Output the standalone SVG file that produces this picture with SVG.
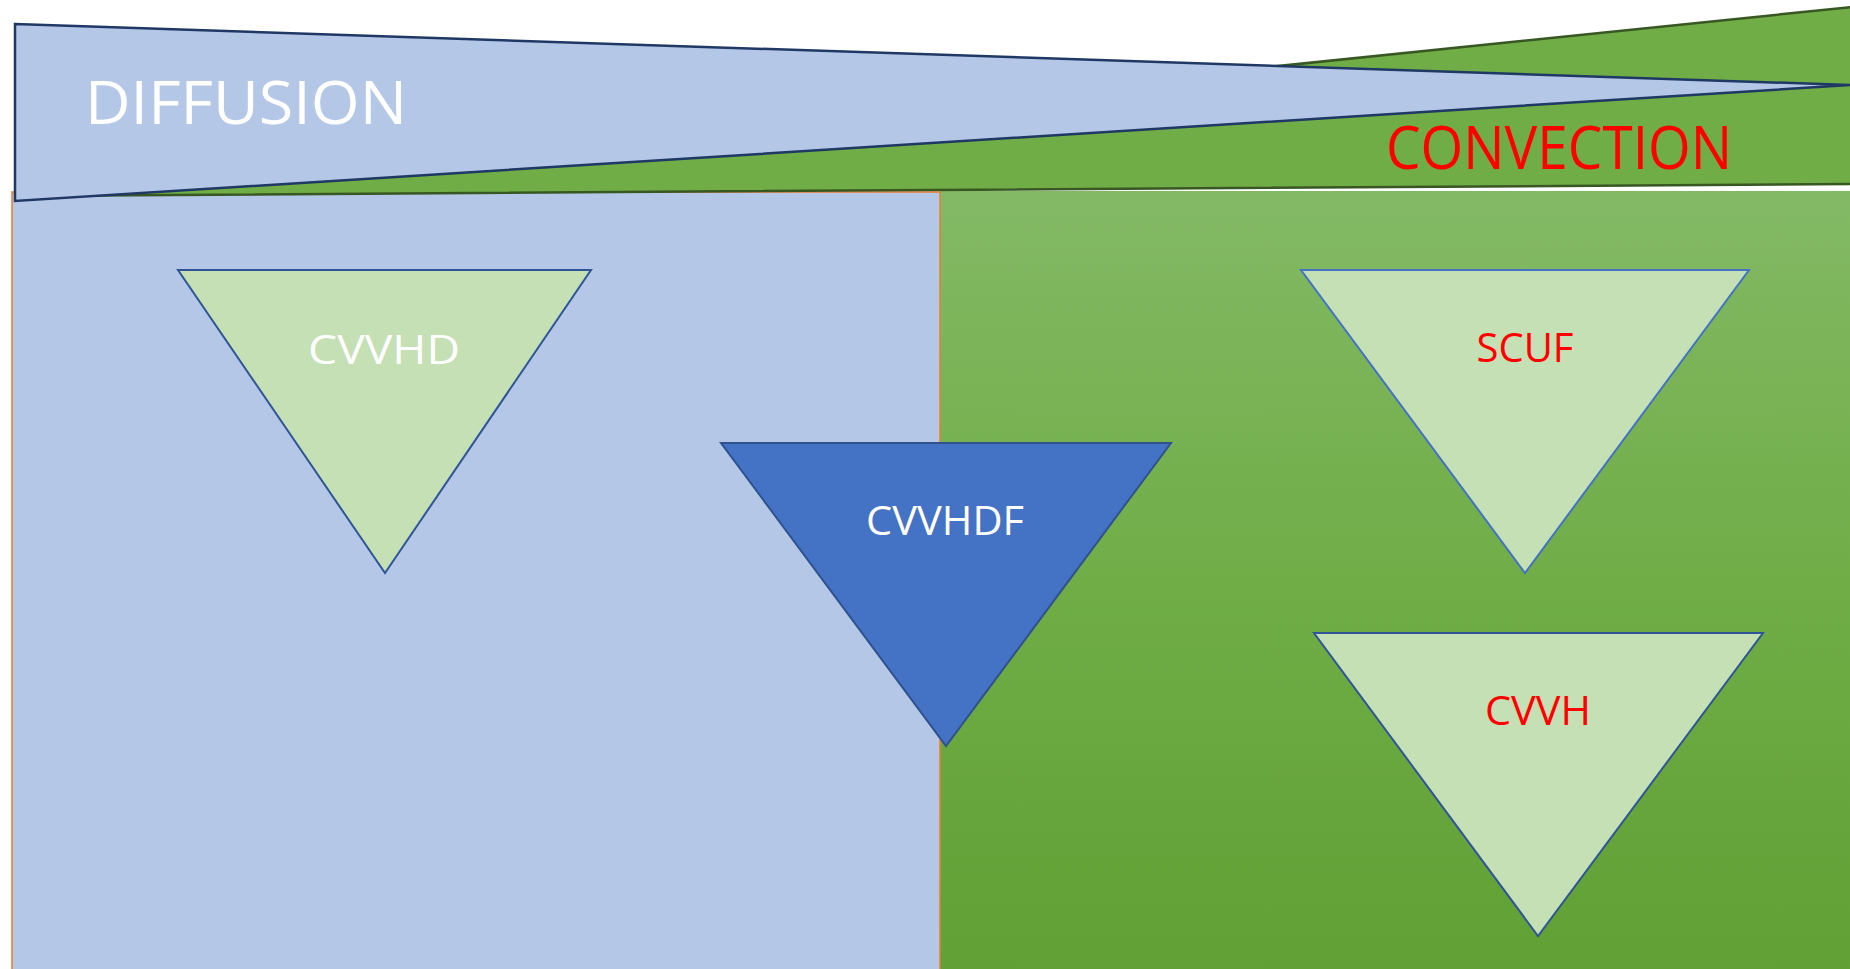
<svg xmlns="http://www.w3.org/2000/svg" width="1850" height="969" viewBox="0 0 1850 969">
  <defs>
    <linearGradient id="convGrad" x1="0" y1="0" x2="0" y2="1">
      <stop offset="0" stop-color="#83B965"/>
      <stop offset="0.5" stop-color="#70AD47"/>
      <stop offset="1" stop-color="#60A034"/>
    </linearGradient>
    <style>
      .label { font-family: "Open Sans", "Noto Sans", "Liberation Sans", sans-serif; }
      .big { font-size: 61px; }
      .small { font-size: 41px; }
      .white { fill: #FFFFFF; }
      .red { fill: #FF0000; }
      .tri-light { fill: #C5E0B4; stroke: #2F5597; stroke-width: 2; }
      .tri-dark { fill: #4472C4; stroke: #2F528F; stroke-width: 2; }
    </style>
  </defs>

  <rect width="1850" height="969" fill="#FFFFFF"/>

  <!-- background zones -->
  <g id="zone-convection">
    <rect x="940" y="191" width="912" height="780" fill="url(#convGrad)"/>
  </g>
  <g id="zone-diffusion">
    <rect x="12" y="192" width="928" height="780" fill="#B4C7E7" stroke="#ED7D31" stroke-width="1.5"/>
  </g>

  <!-- wedge headers -->
  <g id="wedge-convection">
    <polygon points="15,196 1852,7 1852,184" fill="#70AD47" stroke="#385723" stroke-width="2.5"/>
    <text class="label big red" x="1386" y="169" textLength="346" lengthAdjust="spacingAndGlyphs">CONVECTION</text>
  </g>
  <g id="wedge-diffusion">
    <polygon points="15,24 1850,85 15,201" fill="#B4C7E7" stroke="#1F3864" stroke-width="2.5"/>
    <text class="label big white" x="85" y="124" textLength="322" lengthAdjust="spacingAndGlyphs">DIFFUSION</text>
  </g>

  <!-- modality nodes -->
  <g id="node-cvvhd">
    <polygon class="tri-light" points="178,270 591,270 385,573"/>
    <text class="label small white" x="384" y="364" text-anchor="middle" textLength="152" lengthAdjust="spacingAndGlyphs">CVVHD</text>
  </g>
  <g id="node-cvvhdf">
    <polygon class="tri-dark" points="721,443 1171,443 946,746"/>
    <text class="label small white" x="945" y="535" text-anchor="middle" textLength="158" lengthAdjust="spacingAndGlyphs">CVVHDF</text>
  </g>
  <g id="node-scuf">
    <polygon class="tri-light" style="stroke:#4472C4" points="1301,270 1749,270 1525,573"/>
    <text class="label small red" x="1525" y="362" text-anchor="middle" textLength="97" lengthAdjust="spacingAndGlyphs">SCUF</text>
  </g>
  <g id="node-cvvh">
    <polygon class="tri-light" points="1314,633 1763,633 1538,936"/>
    <text class="label small red" x="1538" y="725" text-anchor="middle" textLength="106" lengthAdjust="spacingAndGlyphs">CVVH</text>
  </g>

  <g id="connectors"/>
</svg>
